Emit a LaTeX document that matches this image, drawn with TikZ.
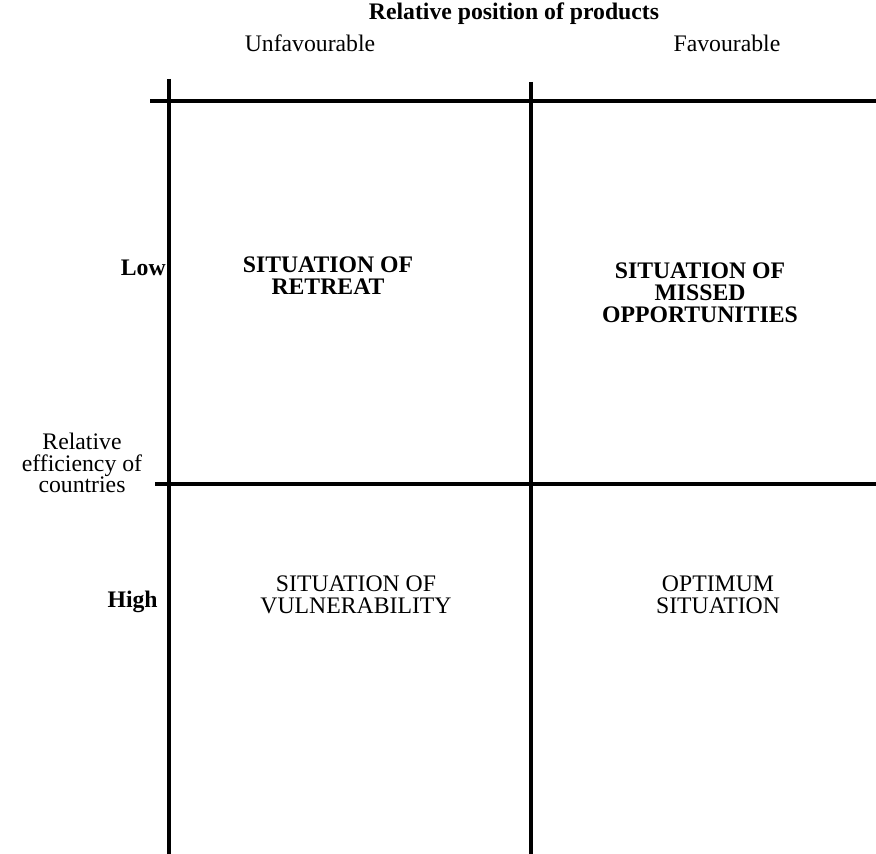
\documentclass[tikz,border=0pt]{standalone}
\usepackage{fontspec}
\setmainfont{Liberation Serif}

\begin{document}
\begin{tikzpicture}[x=0.02cm, y=-0.02cm,
		gridline/.style={line width=1.9pt},
		txt/.style={font=\fontsize{13.5}{12.4pt}\selectfont, align=center, inner sep=0pt},
		boldtxt/.style={txt, font=\fontsize{13.5}{12.4pt}\selectfont\bfseries}]
	\useasboundingbox (0,0) rectangle (876,854);

	% corners of the matrix
	\coordinate (topleft)  at (150,101);
	\coordinate (topright) at (876,101);
	\coordinate (midleft)  at (155,484);
	\coordinate (midright) at (876,484);
	\coordinate (lefttop)  at (169,79);
	\coordinate (leftbot)  at (169,854);
	\coordinate (centtop)  at (531,82);
	\coordinate (centbot)  at (531,854);

	\draw[gridline] (topleft) -- (topright);
	\draw[gridline] (midleft) -- (midright);
	\draw[gridline] (lefttop) -- (leftbot);
	\draw[gridline] (centtop) -- (centbot);

	% column heads
	\node[boldtxt] (products) at (514,14) {Relative position of products};
	\node[txt] (unfav) at (310,43) {Unfavourable};
	\node[txt] (fav)   at (727,43) {Favourable};

	% row heads
	\node[boldtxt, anchor=east] (low)  at (166,268) {Low};
	\node[txt] (efficiency) at (82,463)
		{Relative\\efficiency of\\countries};
	\node[boldtxt, anchor=east] (high) at (158,602) {High};

	% quadrants
	\node[boldtxt] (retreat)   at (328,276)
		{SITUATION OF\\RETREAT};
	\node[boldtxt] (missed)    at (700,293)
		{SITUATION OF\\MISSED\\OPPORTUNITIES};
	\node[txt] (vulnerable)    at (356,595)
		{SITUATION OF\\VULNERABILITY};
	\node[txt] (optimum)       at (718,595)
		{OPTIMUM\\SITUATION};
\end{tikzpicture}
\end{document}
